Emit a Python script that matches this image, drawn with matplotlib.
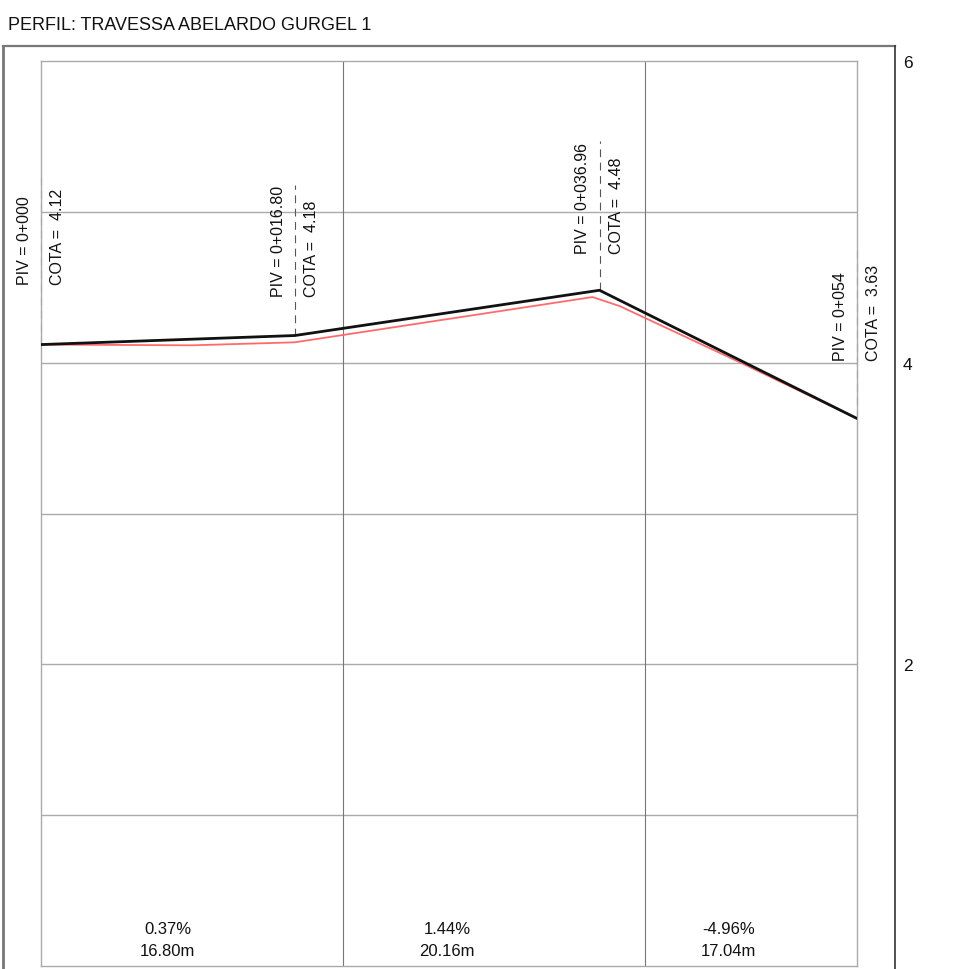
import matplotlib
matplotlib.use('Agg')
import matplotlib.pyplot as plt
from matplotlib.lines import Line2D

plt.rcParams['font.family'] = ['Liberation Sans', 'DejaVu Sans']

title = 'PERFIL: TRAVESSA ABELARDO GURGEL 1'

# perfil projetado (PIV)
piv_dist = [0, 16.80, 36.96, 54]
piv_cota = [4.12, 4.18, 4.48, 3.63]
piv_labels = ['0+000', '0+016.80', '0+036.96', '0+054']

# terreno natural
terr_dist = [0, 10, 16.8, 36.5, 38.3, 46.3, 54]
terr_cota = [4.12, 4.115, 4.135, 4.435, 4.375, 4.0, 3.63]

# rampas
slopes = ['0.37%', '1.44%', '-4.96%']
lengths = ['16.80m', '20.16m', '17.04m']

y_ticks = [2, 4, 6]

# altura da base dos textos de cada PIV
label_base = [4.52, 4.44, 4.73, 4.02]

W, H = 955, 970
fig = plt.figure(figsize=(W / 100, H / 100), dpi=100)
ax = fig.add_axes([41 / W, (H - 967) / H, 816 / W, 905 / H])

ax.set_xlim(0, 54)
ax.set_ylim(0, 6)

for yv in range(1, 6):
    ax.axhline(yv, color='#aaaaaa', lw=1.0, zorder=1)
for xv in [20, 40]:
    ax.axvline(xv, color='#777777', lw=0.8, zorder=1)
for s in ax.spines.values():
    s.set_color('#aaaaaa')
    s.set_linewidth(1.0)

ax.plot(terr_dist, terr_cota, color='#ff6b6b', lw=1.3, zorder=3)
ax.plot(piv_dist, piv_cota, color='#111111', lw=2.0, zorder=4)

for i in range(len(piv_dist)):
    ax.plot([piv_dist[i], piv_dist[i]], [piv_cota[i], label_base[i] + 0.74],
            color='#555555', lw=0.8, ls=(0, (7, 5)), zorder=2, clip_on=False)
    ax.annotate(f'PIV = {piv_labels[i]}', (piv_dist[i], label_base[i]),
                xytext=(-12, 0), textcoords='offset points',
                rotation=90, ha='center', va='bottom', fontsize=11.5,
                color='#111111', annotation_clip=False)
    ax.annotate(f'COTA =  {piv_cota[i]:.2f}', (piv_dist[i], label_base[i]),
                xytext=(12, 0), textcoords='offset points',
                rotation=90, ha='center', va='bottom', fontsize=11.5,
                color='#111111', annotation_clip=False)

for i in range(len(slopes)):
    xm = (piv_dist[i] + piv_dist[i + 1]) / 2
    ax.text(xm, 0.25, slopes[i], ha='center', va='center', fontsize=12, color='#111111')
    ax.text(xm, 0.10, lengths[i], ha='center', va='center', fontsize=12, color='#111111')

ax.yaxis.tick_right()
ax.set_yticks(y_ticks)
ax.set_yticklabels([str(t) for t in y_ticks])
ax.tick_params(axis='y', length=0, pad=33, labelsize=12.5, labelcolor='#111111')
ax.set_xticks([])

# moldura externa
def fx(px):
    return px / W

def fy(py):
    return (H - py) / H

fig.add_artist(Line2D([fx(3), fx(3)], [fy(970), fy(47)], color='#777777', lw=2.0))
fig.add_artist(Line2D([fx(3), fx(895)], [fy(47), fy(47)], color='#777777', lw=1.6))
fig.add_artist(Line2D([fx(895), fx(895)], [fy(47), fy(970)], color='#333333', lw=1.2))

fig.text(fx(8), fy(25), title, ha='left', va='center', fontsize=13, color='#111111')

fig.savefig('out.png', dpi=100)
